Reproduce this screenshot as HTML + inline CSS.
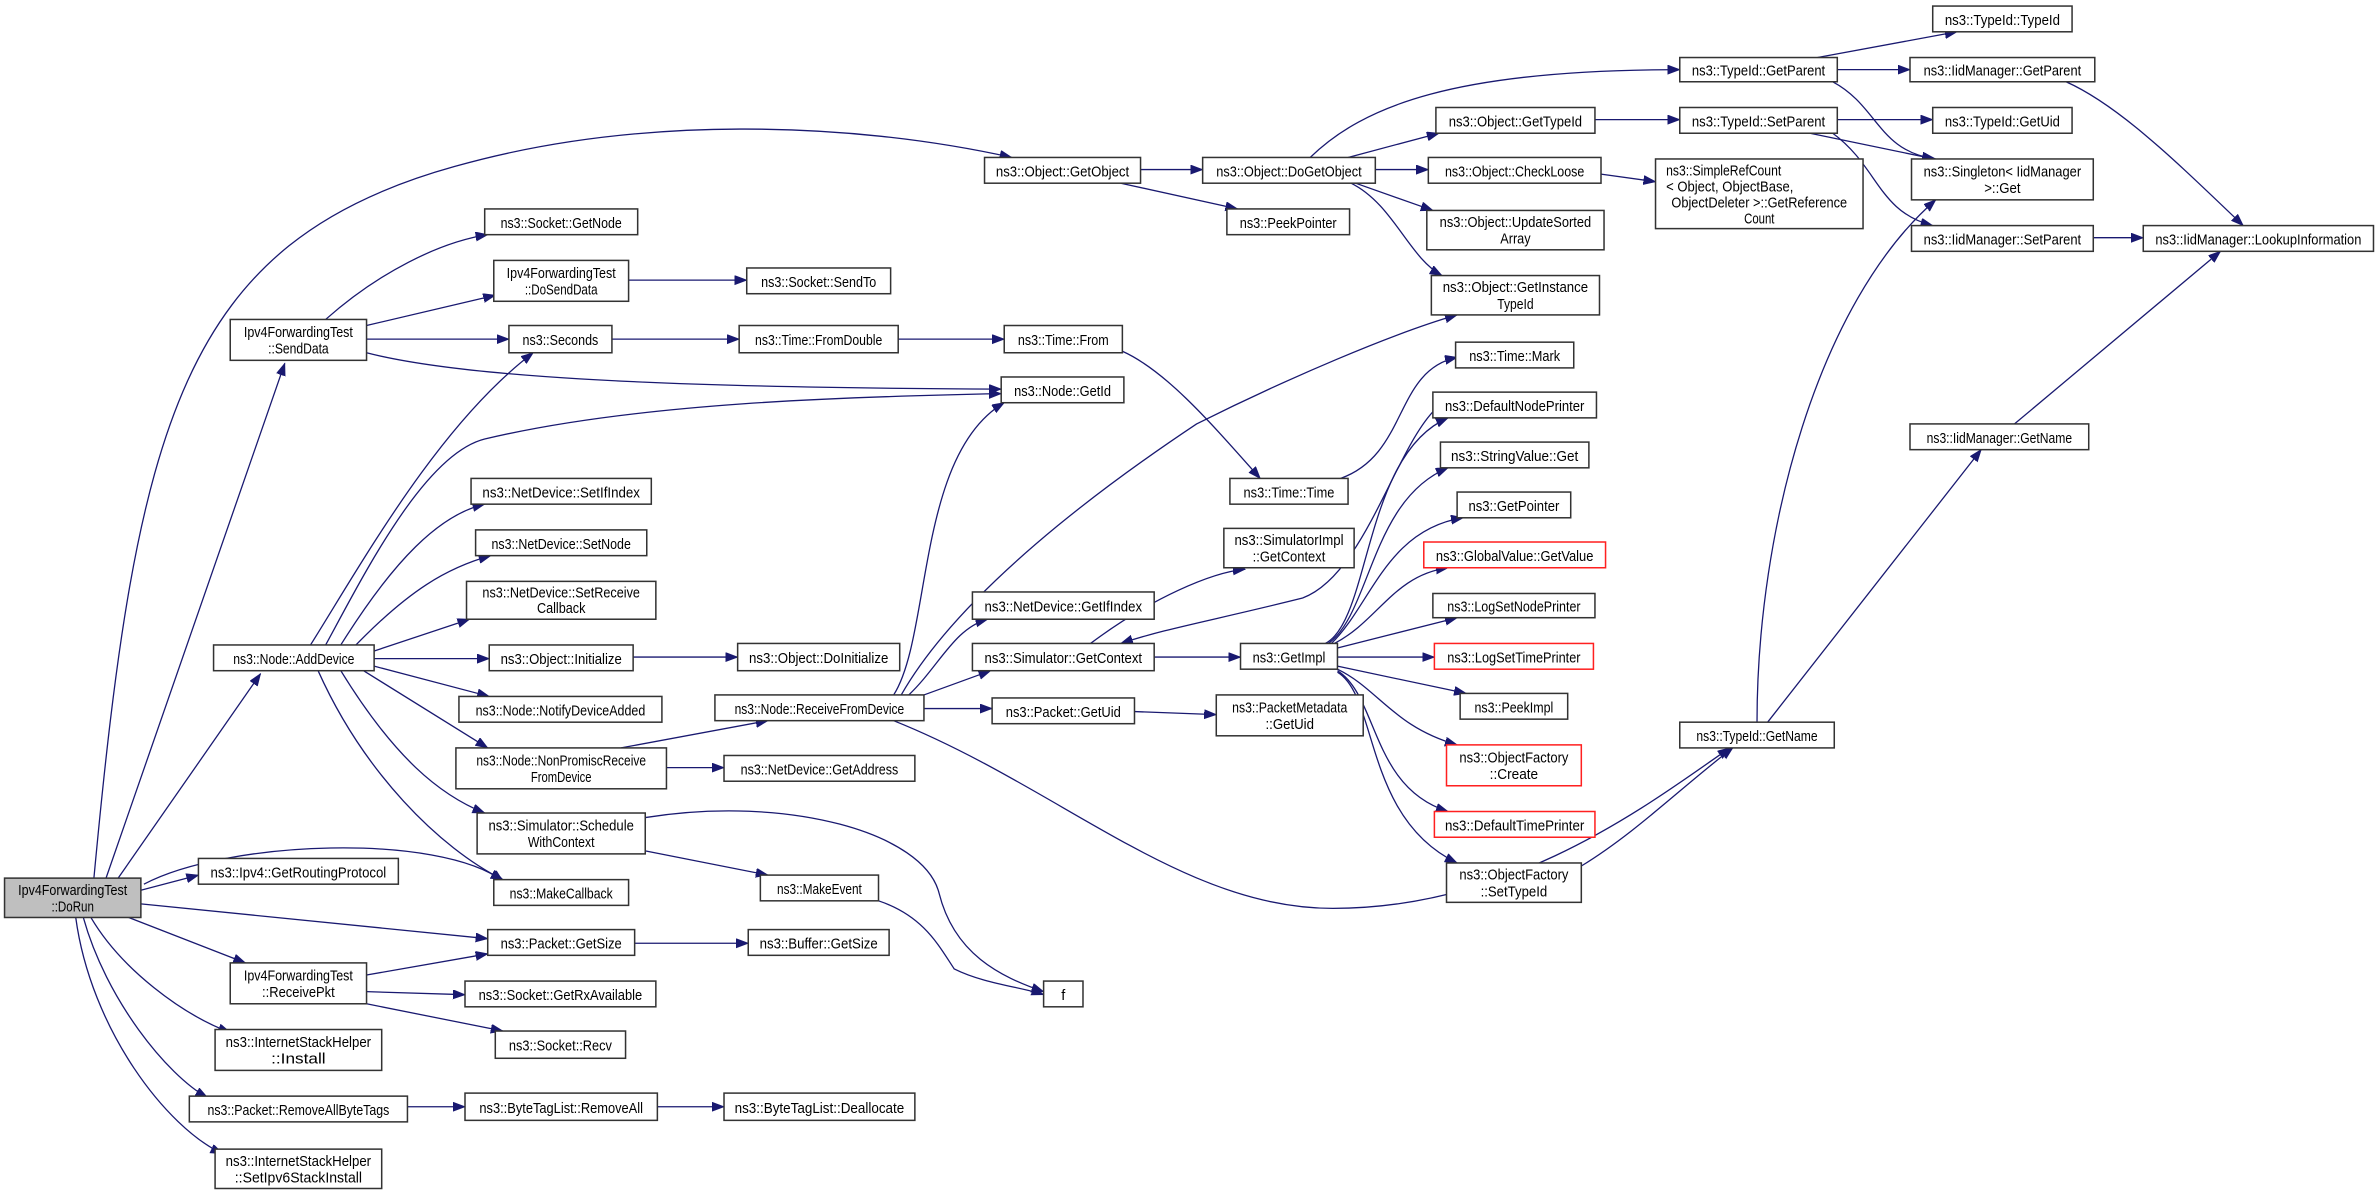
<!DOCTYPE html>
<html><head><meta charset="utf-8"><style>
html,body{margin:0;padding:0;background:#fff;}
svg{display:block;}
text{font-family:"Liberation Sans",Arial,sans-serif;font-size:9.6px;fill:#000;}
.n{fill:#fff;stroke:#333;stroke-width:1;}
.r{fill:#fff;stroke:#ff2020;stroke-width:1;}
.g{fill:#bfbfbf;stroke:#333;stroke-width:1;}
.e{fill:none;stroke:#191970;stroke-width:0.85;marker-end:url(#a);}
</style></head><body>
<svg width="2375" height="1190" viewBox="0 0 1568 786" preserveAspectRatio="none" xmlns="http://www.w3.org/2000/svg">
<defs><marker id="a" markerUnits="userSpaceOnUse" markerWidth="9" markerHeight="7" refX="8" refY="3" orient="auto"><path d="M0,0 L8,3 L0,6 z" fill="#191970" stroke="#191970" stroke-width="0.5"/></marker></defs>
<rect width="1568" height="786" fill="#fff"/>
<g>
<path class="e" d="M62,580 C90,280 120,160 300,110 C420,76 560,80 668,104"/>
<path class="e" d="M70,580 L188,240"/>
<path class="e" d="M78,580 L172,445"/>
<path class="e" d="M95,584 C150,555 290,550 332,582"/>
<path class="e" d="M93,588 L131,578"/>
<path class="e" d="M93,597 L322,620"/>
<path class="e" d="M85,606 L162,636"/>
<path class="e" d="M60,606 C80,640 120,670 152,682"/>
<path class="e" d="M55,606 C70,660 110,710 137,725"/>
<path class="e" d="M50,606 C60,680 110,745 147,762"/>
<path class="e" d="M215,211 C250,180 290,160 322,155"/>
<path class="e" d="M242,215 L327,195"/>
<path class="e" d="M242,224 L336,224"/>
<path class="e" d="M242,233 C300,248 420,256 661,257"/>
<path class="e" d="M415,185 L493,185"/>
<path class="e" d="M404,224 L488,224"/>
<path class="e" d="M593,224 L663,224"/>
<path class="e" d="M741,232 C770,245 800,280 832,316"/>
<path class="e" d="M885,316 C930,300 920,245 962,236"/>
<path class="e" d="M205,426 C240,370 290,280 352,233"/>
<path class="e" d="M215,426 C240,380 280,300 320,290 C420,266 560,262 661,260"/>
<path class="e" d="M225,426 C260,370 290,340 320,333"/>
<path class="e" d="M235,426 C270,390 295,375 324,367"/>
<path class="e" d="M247,430 L310,409"/>
<path class="e" d="M247,435 L323,435"/>
<path class="e" d="M247,440 L323,460"/>
<path class="e" d="M240,443 L322,494"/>
<path class="e" d="M225,443 C260,500 290,525 320,537"/>
<path class="e" d="M210,443 C240,510 290,560 332,581"/>
<path class="e" d="M418,434 L487,434"/>
<path class="e" d="M410,494 L507,476"/>
<path class="e" d="M440,507 L478,507"/>
<path class="e" d="M426,562 L507,578"/>
<path class="e" d="M426,540 C520,525 610,550 620,590 C630,630 660,645 689,655"/>
<path class="e" d="M580,595 C610,605 620,625 630,640 C650,650 675,652 689,657"/>
<path class="e" d="M419,623 L494,623"/>
<path class="e" d="M242,644 L322,630"/>
<path class="e" d="M242,655 L307,657"/>
<path class="e" d="M242,663 L332,681"/>
<path class="e" d="M269,731 L307,731"/>
<path class="e" d="M434,731 L478,731"/>
<path class="e" d="M590,459 C615,420 605,300 663,266"/>
<path class="e" d="M595,459 C640,380 760,300 790,280 C850,250 920,220 962,208"/>
<path class="e" d="M600,459 C620,440 630,415 652,409"/>
<path class="e" d="M610,459 L654,443"/>
<path class="e" d="M610,468 L655,468"/>
<path class="e" d="M590,476 C700,520 780,600 880,600 C1000,600 1090,530 1142,494"/>
<path class="e" d="M749,470 L803,472"/>
<path class="e" d="M720,425 C760,395 800,378 822,376"/>
<path class="e" d="M762,434 L819,434"/>
<path class="e" d="M946,272 C920,300 900,380 860,395 C800,410 770,415 740,425"/>
<path class="e" d="M875,425 C905,410 900,300 956,276"/>
<path class="e" d="M877,425 C905,405 905,330 956,309"/>
<path class="e" d="M879,425 C905,400 915,350 966,342"/>
<path class="e" d="M881,425 C910,410 920,380 956,375"/>
<path class="e" d="M883,428 L962,408"/>
<path class="e" d="M883,434 L947,434"/>
<path class="e" d="M883,440 L968,458"/>
<path class="e" d="M883,442 C910,455 920,480 962,492"/>
<path class="e" d="M883,443 C910,460 905,520 956,536"/>
<path class="e" d="M883,444 C910,460 900,540 962,570"/>
<path class="e" d="M1044,572 C1080,550 1110,520 1144,494"/>
<path class="e" d="M1160,477 C1160,350 1200,200 1278,132"/>
<path class="e" d="M1167,477 L1308,297"/>
<path class="e" d="M1330,280 L1466,166"/>
<path class="e" d="M1364,54 C1400,70 1440,110 1481,149"/>
<path class="e" d="M1382,157 L1415,157"/>
<path class="e" d="M1200,38 L1292,21"/>
<path class="e" d="M1213,46 L1261,46"/>
<path class="e" d="M1210,54 C1240,70 1240,100 1278,105"/>
<path class="e" d="M1213,79 L1276,79"/>
<path class="e" d="M1195,88 L1277,105"/>
<path class="e" d="M1210,88 C1240,110 1240,140 1276,149"/>
<path class="e" d="M1053,79 L1109,79"/>
<path class="e" d="M1057,115 L1093,120"/>
<path class="e" d="M865,104 C900,70 960,46 1109,46"/>
<path class="e" d="M890,104 L950,88"/>
<path class="e" d="M908,112 L943,112"/>
<path class="e" d="M895,121 L946,139"/>
<path class="e" d="M892,121 C920,135 930,170 952,182"/>
<path class="e" d="M753,112 L794,112"/>
<path class="e" d="M740,121 L817,138"/>
</g>
<g>
<rect class="g" x="3" y="580" width="90" height="26"/><text x="48" y="591" text-anchor="middle" textLength="72" lengthAdjust="spacingAndGlyphs">Ipv4ForwardingTest</text><text x="48" y="602" text-anchor="middle" textLength="28" lengthAdjust="spacingAndGlyphs">::DoRun</text>
<rect class="n" x="650" y="104" width="103" height="17"/><text x="701.5" y="116.5" text-anchor="middle" textLength="88" lengthAdjust="spacingAndGlyphs">ns3::Object::GetObject</text>
<rect class="n" x="794" y="104" width="114" height="17"/><text x="851" y="116.5" text-anchor="middle" textLength="96" lengthAdjust="spacingAndGlyphs">ns3::Object::DoGetObject</text>
<rect class="n" x="810" y="138" width="81" height="17"/><text x="850.5" y="150.5" text-anchor="middle" textLength="64" lengthAdjust="spacingAndGlyphs">ns3::PeekPointer</text>
<rect class="n" x="1276" y="4" width="92" height="17"/><text x="1322" y="16.5" text-anchor="middle" textLength="76" lengthAdjust="spacingAndGlyphs">ns3::TypeId::TypeId</text>
<rect class="n" x="1109" y="38" width="104" height="16"/><text x="1161" y="50" text-anchor="middle" textLength="88" lengthAdjust="spacingAndGlyphs">ns3::TypeId::GetParent</text>
<rect class="n" x="1261" y="38" width="122" height="16"/><text x="1322" y="50" text-anchor="middle" textLength="104" lengthAdjust="spacingAndGlyphs">ns3::IidManager::GetParent</text>
<rect class="n" x="948" y="71" width="105" height="17"/><text x="1000.5" y="83.5" text-anchor="middle" textLength="88" lengthAdjust="spacingAndGlyphs">ns3::Object::GetTypeId</text>
<rect class="n" x="1109" y="71" width="104" height="17"/><text x="1161" y="83.5" text-anchor="middle" textLength="88" lengthAdjust="spacingAndGlyphs">ns3::TypeId::SetParent</text>
<rect class="n" x="1276" y="71" width="92" height="17"/><text x="1322" y="83.5" text-anchor="middle" textLength="76" lengthAdjust="spacingAndGlyphs">ns3::TypeId::GetUid</text>
<rect class="n" x="943" y="104" width="114" height="17"/><text x="1000" y="116.5" text-anchor="middle" textLength="92" lengthAdjust="spacingAndGlyphs">ns3::Object::CheckLoose</text>
<rect class="n" x="1093" y="105" width="137" height="46"/><text x="1100" y="116" textLength="76" lengthAdjust="spacingAndGlyphs">ns3::SimpleRefCount</text><text x="1100" y="126.5" textLength="84" lengthAdjust="spacingAndGlyphs">&lt; Object, ObjectBase,</text><text x="1161.5" y="137" text-anchor="middle" textLength="116" lengthAdjust="spacingAndGlyphs">ObjectDeleter &gt;::GetReference</text><text x="1161.5" y="147.5" text-anchor="middle" textLength="20" lengthAdjust="spacingAndGlyphs">Count</text>
<rect class="n" x="1262" y="105" width="120" height="27"/><text x="1322" y="116.5" text-anchor="middle" textLength="104" lengthAdjust="spacingAndGlyphs">ns3::Singleton&lt; IidManager</text><text x="1322" y="127.5" text-anchor="middle" textLength="24" lengthAdjust="spacingAndGlyphs">&gt;::Get</text>
<rect class="n" x="942" y="139" width="117" height="26"/><text x="1000.5" y="150" text-anchor="middle" textLength="100" lengthAdjust="spacingAndGlyphs">ns3::Object::UpdateSorted</text><text x="1000.5" y="161" text-anchor="middle" textLength="20" lengthAdjust="spacingAndGlyphs">Array</text>
<rect class="n" x="1262" y="149" width="120" height="17"/><text x="1322" y="161.5" text-anchor="middle" textLength="104" lengthAdjust="spacingAndGlyphs">ns3::IidManager::SetParent</text>
<rect class="n" x="1415" y="149" width="152" height="17"/><text x="1491" y="161.5" text-anchor="middle" textLength="136" lengthAdjust="spacingAndGlyphs">ns3::IidManager::LookupInformation</text>
<rect class="n" x="945" y="182" width="111" height="26"/><text x="1000.5" y="193" text-anchor="middle" textLength="96" lengthAdjust="spacingAndGlyphs">ns3::Object::GetInstance</text><text x="1000.5" y="204" text-anchor="middle" textLength="24" lengthAdjust="spacingAndGlyphs">TypeId</text>
<rect class="n" x="320" y="138" width="101" height="17"/><text x="370.5" y="150.5" text-anchor="middle" textLength="80" lengthAdjust="spacingAndGlyphs">ns3::Socket::GetNode</text>
<rect class="n" x="326" y="172" width="89" height="27"/><text x="370.5" y="183.5" text-anchor="middle" textLength="72" lengthAdjust="spacingAndGlyphs">Ipv4ForwardingTest</text><text x="370.5" y="194.5" text-anchor="middle" textLength="48" lengthAdjust="spacingAndGlyphs">::DoSendData</text>
<rect class="n" x="152" y="211" width="90" height="27"/><text x="197" y="222.5" text-anchor="middle" textLength="72" lengthAdjust="spacingAndGlyphs">Ipv4ForwardingTest</text><text x="197" y="233.5" text-anchor="middle" textLength="40" lengthAdjust="spacingAndGlyphs">::SendData</text>
<rect class="n" x="336" y="215" width="68" height="18"/><text x="370" y="228" text-anchor="middle" textLength="50" lengthAdjust="spacingAndGlyphs">ns3::Seconds</text>
<rect class="n" x="493" y="177" width="95" height="17"/><text x="540.5" y="189.5" text-anchor="middle" textLength="76" lengthAdjust="spacingAndGlyphs">ns3::Socket::SendTo</text>
<rect class="n" x="488" y="215" width="105" height="18"/><text x="540.5" y="228" text-anchor="middle" textLength="84" lengthAdjust="spacingAndGlyphs">ns3::Time::FromDouble</text>
<rect class="n" x="663" y="215" width="78" height="18"/><text x="702" y="228" text-anchor="middle" textLength="60" lengthAdjust="spacingAndGlyphs">ns3::Time::From</text>
<rect class="n" x="661" y="249" width="81" height="17"/><text x="701.5" y="261.5" text-anchor="middle" textLength="64" lengthAdjust="spacingAndGlyphs">ns3::Node::GetId</text>
<rect class="n" x="961" y="226" width="78" height="17"/><text x="1000" y="238.5" text-anchor="middle" textLength="60" lengthAdjust="spacingAndGlyphs">ns3::Time::Mark</text>
<rect class="n" x="946" y="259" width="108" height="17"/><text x="1000" y="271.5" text-anchor="middle" textLength="92" lengthAdjust="spacingAndGlyphs">ns3::DefaultNodePrinter</text>
<rect class="n" x="951" y="292" width="98" height="17"/><text x="1000" y="304.5" text-anchor="middle" textLength="84" lengthAdjust="spacingAndGlyphs">ns3::StringValue::Get</text>
<rect class="n" x="812" y="316" width="78" height="17"/><text x="851" y="328.5" text-anchor="middle" textLength="60" lengthAdjust="spacingAndGlyphs">ns3::Time::Time</text>
<rect class="n" x="311" y="316" width="119" height="17"/><text x="370.5" y="328.5" text-anchor="middle" textLength="104" lengthAdjust="spacingAndGlyphs">ns3::NetDevice::SetIfIndex</text>
<rect class="n" x="962" y="325" width="75" height="17"/><text x="999.5" y="337.5" text-anchor="middle" textLength="60" lengthAdjust="spacingAndGlyphs">ns3::GetPointer</text>
<rect class="n" x="314" y="350" width="113" height="17"/><text x="370.5" y="362.5" text-anchor="middle" textLength="92" lengthAdjust="spacingAndGlyphs">ns3::NetDevice::SetNode</text>
<rect class="n" x="808" y="349" width="86" height="26"/><text x="851" y="360" text-anchor="middle" textLength="72" lengthAdjust="spacingAndGlyphs">ns3::SimulatorImpl</text><text x="851" y="371" text-anchor="middle" textLength="48" lengthAdjust="spacingAndGlyphs">::GetContext</text>
<rect class="r" x="940" y="358" width="120" height="17"/><text x="1000" y="370.5" text-anchor="middle" textLength="104" lengthAdjust="spacingAndGlyphs">ns3::GlobalValue::GetValue</text>
<rect class="n" x="308" y="384" width="125" height="25"/><text x="370.5" y="394.5" text-anchor="middle" textLength="104" lengthAdjust="spacingAndGlyphs">ns3::NetDevice::SetReceive</text><text x="370.5" y="405" text-anchor="middle" textLength="32" lengthAdjust="spacingAndGlyphs">Callback</text>
<rect class="n" x="642" y="391" width="120" height="18"/><text x="702" y="404" text-anchor="middle" textLength="104" lengthAdjust="spacingAndGlyphs">ns3::NetDevice::GetIfIndex</text>
<rect class="n" x="946" y="392" width="107" height="16"/><text x="999.5" y="404" text-anchor="middle" textLength="88" lengthAdjust="spacingAndGlyphs">ns3::LogSetNodePrinter</text>
<rect class="n" x="141" y="426" width="106" height="17"/><text x="194" y="438.5" text-anchor="middle" textLength="80" lengthAdjust="spacingAndGlyphs">ns3::Node::AddDevice</text>
<rect class="n" x="323" y="426" width="95" height="17"/><text x="370.5" y="438.5" text-anchor="middle" textLength="80" lengthAdjust="spacingAndGlyphs">ns3::Object::Initialize</text>
<rect class="n" x="487" y="425" width="107" height="18"/><text x="540.5" y="438" text-anchor="middle" textLength="92" lengthAdjust="spacingAndGlyphs">ns3::Object::DoInitialize</text>
<rect class="n" x="642" y="425" width="120" height="18"/><text x="702" y="438" text-anchor="middle" textLength="104" lengthAdjust="spacingAndGlyphs">ns3::Simulator::GetContext</text>
<rect class="n" x="819" y="425" width="64" height="17"/><text x="851" y="437.5" text-anchor="middle" textLength="48" lengthAdjust="spacingAndGlyphs">ns3::GetImpl</text>
<rect class="r" x="947" y="425" width="105" height="17"/><text x="999.5" y="437.5" text-anchor="middle" textLength="88" lengthAdjust="spacingAndGlyphs">ns3::LogSetTimePrinter</text>
<rect class="n" x="964" y="458" width="71" height="17"/><text x="999.5" y="470.5" text-anchor="middle" textLength="52" lengthAdjust="spacingAndGlyphs">ns3::PeekImpl</text>
<rect class="n" x="303" y="460" width="134" height="17"/><text x="370" y="472.5" text-anchor="middle" textLength="112" lengthAdjust="spacingAndGlyphs">ns3::Node::NotifyDeviceAdded</text>
<rect class="n" x="472" y="459" width="138" height="17"/><text x="541" y="471.5" text-anchor="middle" textLength="112" lengthAdjust="spacingAndGlyphs">ns3::Node::ReceiveFromDevice</text>
<rect class="n" x="655" y="461" width="94" height="17"/><text x="702" y="473.5" text-anchor="middle" textLength="76" lengthAdjust="spacingAndGlyphs">ns3::Packet::GetUid</text>
<rect class="n" x="803" y="459" width="97" height="27"/><text x="851.5" y="470.5" text-anchor="middle" textLength="76" lengthAdjust="spacingAndGlyphs">ns3::PacketMetadata</text><text x="851.5" y="481.5" text-anchor="middle" textLength="32" lengthAdjust="spacingAndGlyphs">::GetUid</text>
<rect class="n" x="1109" y="477" width="102" height="17"/><text x="1160" y="489.5" text-anchor="middle" textLength="80" lengthAdjust="spacingAndGlyphs">ns3::TypeId::GetName</text>
<rect class="n" x="1261" y="280" width="118" height="17"/><text x="1320" y="292.5" text-anchor="middle" textLength="96" lengthAdjust="spacingAndGlyphs">ns3::IidManager::GetName</text>
<rect class="r" x="955" y="492" width="89" height="27"/><text x="999.5" y="503.5" text-anchor="middle" textLength="72" lengthAdjust="spacingAndGlyphs">ns3::ObjectFactory</text><text x="999.5" y="514.5" text-anchor="middle" textLength="32" lengthAdjust="spacingAndGlyphs">::Create</text>
<rect class="n" x="301" y="494" width="139" height="27"/><text x="370.5" y="505.5" text-anchor="middle" textLength="112" lengthAdjust="spacingAndGlyphs">ns3::Node::NonPromiscReceive</text><text x="370.5" y="516.5" text-anchor="middle" textLength="40" lengthAdjust="spacingAndGlyphs">FromDevice</text>
<rect class="n" x="478" y="499" width="126" height="17"/><text x="541" y="511.5" text-anchor="middle" textLength="104" lengthAdjust="spacingAndGlyphs">ns3::NetDevice::GetAddress</text>
<rect class="r" x="947" y="536" width="106" height="17"/><text x="1000" y="548.5" text-anchor="middle" textLength="92" lengthAdjust="spacingAndGlyphs">ns3::DefaultTimePrinter</text>
<rect class="n" x="315" y="537" width="111" height="27"/><text x="370.5" y="548.5" text-anchor="middle" textLength="96" lengthAdjust="spacingAndGlyphs">ns3::Simulator::Schedule</text><text x="370.5" y="559.5" text-anchor="middle" textLength="44" lengthAdjust="spacingAndGlyphs">WithContext</text>
<rect class="n" x="131" y="567" width="132" height="17"/><text x="197" y="579.5" text-anchor="middle" textLength="116" lengthAdjust="spacingAndGlyphs">ns3::Ipv4::GetRoutingProtocol</text>
<rect class="n" x="955" y="570" width="89" height="26"/><text x="999.5" y="581" text-anchor="middle" textLength="72" lengthAdjust="spacingAndGlyphs">ns3::ObjectFactory</text><text x="999.5" y="592" text-anchor="middle" textLength="44" lengthAdjust="spacingAndGlyphs">::SetTypeId</text>
<rect class="n" x="502" y="578" width="78" height="17"/><text x="541" y="590.5" text-anchor="middle" textLength="56" lengthAdjust="spacingAndGlyphs">ns3::MakeEvent</text>
<rect class="n" x="326" y="581" width="89" height="17"/><text x="370.5" y="593.5" text-anchor="middle" textLength="68" lengthAdjust="spacingAndGlyphs">ns3::MakeCallback</text>
<rect class="n" x="322" y="614" width="97" height="17"/><text x="370.5" y="626.5" text-anchor="middle" textLength="80" lengthAdjust="spacingAndGlyphs">ns3::Packet::GetSize</text>
<rect class="n" x="494" y="614" width="93" height="17"/><text x="540.5" y="626.5" text-anchor="middle" textLength="78" lengthAdjust="spacingAndGlyphs">ns3::Buffer::GetSize</text>
<rect class="n" x="152" y="636" width="90" height="27"/><text x="197" y="647.5" text-anchor="middle" textLength="72" lengthAdjust="spacingAndGlyphs">Ipv4ForwardingTest</text><text x="197" y="658.5" text-anchor="middle" textLength="48" lengthAdjust="spacingAndGlyphs">::ReceivePkt</text>
<rect class="n" x="689" y="648" width="26" height="17"/><text x="702" y="660.5" text-anchor="middle">f</text>
<rect class="n" x="307" y="648" width="126" height="17"/><text x="370" y="660.5" text-anchor="middle" textLength="108" lengthAdjust="spacingAndGlyphs">ns3::Socket::GetRxAvailable</text>
<rect class="n" x="327" y="681" width="86" height="18"/><text x="370" y="694" text-anchor="middle" textLength="68" lengthAdjust="spacingAndGlyphs">ns3::Socket::Recv</text>
<rect class="n" x="142" y="680" width="110" height="27"/><text x="197" y="691.5" text-anchor="middle" textLength="96" lengthAdjust="spacingAndGlyphs">ns3::InternetStackHelper</text><text x="197" y="702.5" text-anchor="middle" textLength="36" lengthAdjust="spacingAndGlyphs">::Install</text>
<rect class="n" x="125" y="724" width="144" height="17"/><text x="197" y="736.5" text-anchor="middle" textLength="120" lengthAdjust="spacingAndGlyphs">ns3::Packet::RemoveAllByteTags</text>
<rect class="n" x="307" y="722" width="127" height="18"/><text x="370.5" y="735" text-anchor="middle" textLength="108" lengthAdjust="spacingAndGlyphs">ns3::ByteTagList::RemoveAll</text>
<rect class="n" x="478" y="722" width="126" height="18"/><text x="541" y="735" text-anchor="middle" textLength="112" lengthAdjust="spacingAndGlyphs">ns3::ByteTagList::Deallocate</text>
<rect class="n" x="142" y="759" width="110" height="26"/><text x="197" y="770" text-anchor="middle" textLength="96" lengthAdjust="spacingAndGlyphs">ns3::InternetStackHelper</text><text x="197" y="781" text-anchor="middle" textLength="84" lengthAdjust="spacingAndGlyphs">::SetIpv6StackInstall</text>
</g>
</svg>
</body></html>
